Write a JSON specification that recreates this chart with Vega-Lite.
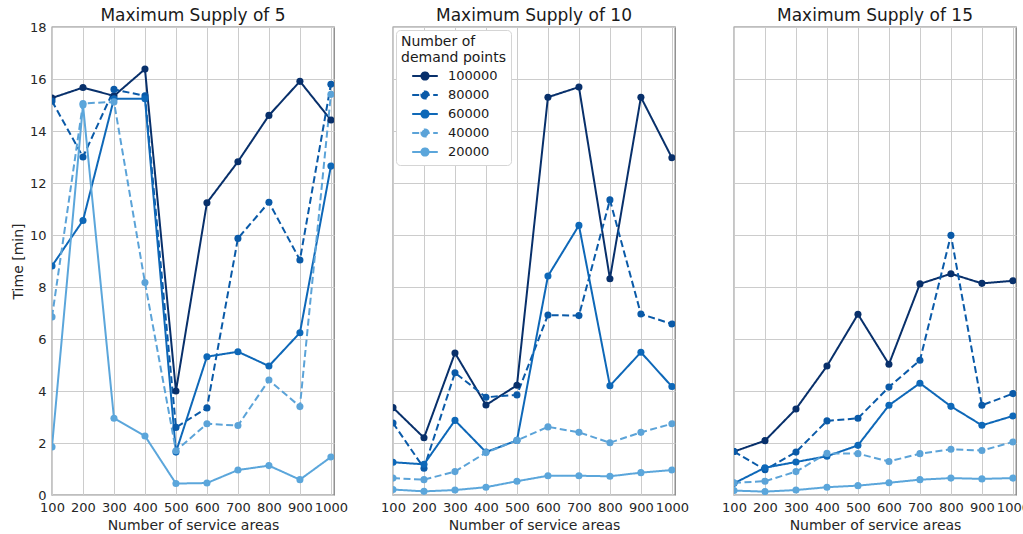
{
  "$schema": "https://vega.github.io/schema/vega-lite/v6.json",
  "padding": {"left": 11, "top": 7, "right": 5, "bottom": 5},
  "background": "white",
  "data": {
    "values": [
      {"s": 5, "n": 100, "d": "100000", "t": 15.27}, {"s": 5, "n": 200, "d": "100000", "t": 15.67}, {"s": 5, "n": 300, "d": "100000", "t": 15.35}, {"s": 5, "n": 400, "d": "100000", "t": 16.38}, {"s": 5, "n": 500, "d": "100000", "t": 4.0}, {"s": 5, "n": 600, "d": "100000", "t": 11.24}, {"s": 5, "n": 700, "d": "100000", "t": 12.82}, {"s": 5, "n": 800, "d": "100000", "t": 14.6}, {"s": 5, "n": 900, "d": "100000", "t": 15.91}, {"s": 5, "n": 1000, "d": "100000", "t": 14.42},
      {"s": 5, "n": 100, "d": "80000", "t": 15.15}, {"s": 5, "n": 200, "d": "80000", "t": 13.0}, {"s": 5, "n": 300, "d": "80000", "t": 15.6}, {"s": 5, "n": 400, "d": "80000", "t": 15.35}, {"s": 5, "n": 500, "d": "80000", "t": 2.6}, {"s": 5, "n": 600, "d": "80000", "t": 3.35}, {"s": 5, "n": 700, "d": "80000", "t": 9.87}, {"s": 5, "n": 800, "d": "80000", "t": 11.26}, {"s": 5, "n": 900, "d": "80000", "t": 9.04}, {"s": 5, "n": 1000, "d": "80000", "t": 15.8},
      {"s": 5, "n": 100, "d": "60000", "t": 8.81}, {"s": 5, "n": 200, "d": "60000", "t": 10.56}, {"s": 5, "n": 300, "d": "60000", "t": 15.24}, {"s": 5, "n": 400, "d": "60000", "t": 15.24}, {"s": 5, "n": 500, "d": "60000", "t": 1.65}, {"s": 5, "n": 600, "d": "60000", "t": 5.32}, {"s": 5, "n": 700, "d": "60000", "t": 5.51}, {"s": 5, "n": 800, "d": "60000", "t": 4.96}, {"s": 5, "n": 900, "d": "60000", "t": 6.24}, {"s": 5, "n": 1000, "d": "60000", "t": 12.65},
      {"s": 5, "n": 100, "d": "40000", "t": 6.85}, {"s": 5, "n": 200, "d": "40000", "t": 15.06}, {"s": 5, "n": 300, "d": "40000", "t": 15.12}, {"s": 5, "n": 400, "d": "40000", "t": 8.17}, {"s": 5, "n": 500, "d": "40000", "t": 1.7}, {"s": 5, "n": 600, "d": "40000", "t": 2.74}, {"s": 5, "n": 700, "d": "40000", "t": 2.67}, {"s": 5, "n": 800, "d": "40000", "t": 4.42}, {"s": 5, "n": 900, "d": "40000", "t": 3.4}, {"s": 5, "n": 1000, "d": "40000", "t": 15.41},
      {"s": 5, "n": 100, "d": "20000", "t": 1.85}, {"s": 5, "n": 200, "d": "20000", "t": 15.0}, {"s": 5, "n": 300, "d": "20000", "t": 2.95}, {"s": 5, "n": 400, "d": "20000", "t": 2.27}, {"s": 5, "n": 500, "d": "20000", "t": 0.44}, {"s": 5, "n": 600, "d": "20000", "t": 0.46}, {"s": 5, "n": 700, "d": "20000", "t": 0.96}, {"s": 5, "n": 800, "d": "20000", "t": 1.13}, {"s": 5, "n": 900, "d": "20000", "t": 0.59}, {"s": 5, "n": 1000, "d": "20000", "t": 1.46},

      {"s": 10, "n": 100, "d": "100000", "t": 3.36}, {"s": 10, "n": 200, "d": "100000", "t": 2.2}, {"s": 10, "n": 300, "d": "100000", "t": 5.46}, {"s": 10, "n": 400, "d": "100000", "t": 3.46}, {"s": 10, "n": 500, "d": "100000", "t": 4.22}, {"s": 10, "n": 600, "d": "100000", "t": 15.3}, {"s": 10, "n": 700, "d": "100000", "t": 15.69}, {"s": 10, "n": 800, "d": "100000", "t": 8.32}, {"s": 10, "n": 900, "d": "100000", "t": 15.3}, {"s": 10, "n": 1000, "d": "100000", "t": 12.97},
      {"s": 10, "n": 100, "d": "80000", "t": 2.77}, {"s": 10, "n": 200, "d": "80000", "t": 1.03}, {"s": 10, "n": 300, "d": "80000", "t": 4.7}, {"s": 10, "n": 400, "d": "80000", "t": 3.76}, {"s": 10, "n": 500, "d": "80000", "t": 3.85}, {"s": 10, "n": 600, "d": "80000", "t": 6.92}, {"s": 10, "n": 700, "d": "80000", "t": 6.9}, {"s": 10, "n": 800, "d": "80000", "t": 11.35}, {"s": 10, "n": 900, "d": "80000", "t": 6.96}, {"s": 10, "n": 1000, "d": "80000", "t": 6.58},
      {"s": 10, "n": 100, "d": "60000", "t": 1.26}, {"s": 10, "n": 200, "d": "60000", "t": 1.18}, {"s": 10, "n": 300, "d": "60000", "t": 2.87}, {"s": 10, "n": 400, "d": "60000", "t": 1.65}, {"s": 10, "n": 500, "d": "60000", "t": 2.1}, {"s": 10, "n": 600, "d": "60000", "t": 8.42}, {"s": 10, "n": 700, "d": "60000", "t": 10.37}, {"s": 10, "n": 800, "d": "60000", "t": 4.2}, {"s": 10, "n": 900, "d": "60000", "t": 5.49}, {"s": 10, "n": 1000, "d": "60000", "t": 4.17},
      {"s": 10, "n": 100, "d": "40000", "t": 0.65}, {"s": 10, "n": 200, "d": "40000", "t": 0.59}, {"s": 10, "n": 300, "d": "40000", "t": 0.9}, {"s": 10, "n": 400, "d": "40000", "t": 1.63}, {"s": 10, "n": 500, "d": "40000", "t": 2.1}, {"s": 10, "n": 600, "d": "40000", "t": 2.62}, {"s": 10, "n": 700, "d": "40000", "t": 2.41}, {"s": 10, "n": 800, "d": "40000", "t": 2.01}, {"s": 10, "n": 900, "d": "40000", "t": 2.41}, {"s": 10, "n": 1000, "d": "40000", "t": 2.74},
      {"s": 10, "n": 100, "d": "20000", "t": 0.21}, {"s": 10, "n": 200, "d": "20000", "t": 0.14}, {"s": 10, "n": 300, "d": "20000", "t": 0.19}, {"s": 10, "n": 400, "d": "20000", "t": 0.3}, {"s": 10, "n": 500, "d": "20000", "t": 0.53}, {"s": 10, "n": 600, "d": "20000", "t": 0.74}, {"s": 10, "n": 700, "d": "20000", "t": 0.74}, {"s": 10, "n": 800, "d": "20000", "t": 0.72}, {"s": 10, "n": 900, "d": "20000", "t": 0.86}, {"s": 10, "n": 1000, "d": "20000", "t": 0.96},

      {"s": 15, "n": 100, "d": "100000", "t": 1.67}, {"s": 15, "n": 200, "d": "100000", "t": 2.09}, {"s": 15, "n": 300, "d": "100000", "t": 3.31}, {"s": 15, "n": 400, "d": "100000", "t": 4.96}, {"s": 15, "n": 500, "d": "100000", "t": 6.95}, {"s": 15, "n": 600, "d": "100000", "t": 5.03}, {"s": 15, "n": 700, "d": "100000", "t": 8.12}, {"s": 15, "n": 800, "d": "100000", "t": 8.51}, {"s": 15, "n": 900, "d": "100000", "t": 8.14}, {"s": 15, "n": 1000, "d": "100000", "t": 8.24},
      {"s": 15, "n": 100, "d": "80000", "t": 1.67}, {"s": 15, "n": 200, "d": "80000", "t": 0.97}, {"s": 15, "n": 300, "d": "80000", "t": 1.65}, {"s": 15, "n": 400, "d": "80000", "t": 2.85}, {"s": 15, "n": 500, "d": "80000", "t": 2.95}, {"s": 15, "n": 600, "d": "80000", "t": 4.15}, {"s": 15, "n": 700, "d": "80000", "t": 5.18}, {"s": 15, "n": 800, "d": "80000", "t": 9.99}, {"s": 15, "n": 900, "d": "80000", "t": 3.45}, {"s": 15, "n": 1000, "d": "80000", "t": 3.9},
      {"s": 15, "n": 100, "d": "60000", "t": 0.45}, {"s": 15, "n": 200, "d": "60000", "t": 1.05}, {"s": 15, "n": 300, "d": "60000", "t": 1.27}, {"s": 15, "n": 400, "d": "60000", "t": 1.49}, {"s": 15, "n": 500, "d": "60000", "t": 1.91}, {"s": 15, "n": 600, "d": "60000", "t": 3.45}, {"s": 15, "n": 700, "d": "60000", "t": 4.3}, {"s": 15, "n": 800, "d": "60000", "t": 3.41}, {"s": 15, "n": 900, "d": "60000", "t": 2.68}, {"s": 15, "n": 1000, "d": "60000", "t": 3.04},
      {"s": 15, "n": 100, "d": "40000", "t": 0.47}, {"s": 15, "n": 200, "d": "40000", "t": 0.53}, {"s": 15, "n": 300, "d": "40000", "t": 0.9}, {"s": 15, "n": 400, "d": "40000", "t": 1.6}, {"s": 15, "n": 500, "d": "40000", "t": 1.59}, {"s": 15, "n": 600, "d": "40000", "t": 1.29}, {"s": 15, "n": 700, "d": "40000", "t": 1.59}, {"s": 15, "n": 800, "d": "40000", "t": 1.76}, {"s": 15, "n": 900, "d": "40000", "t": 1.71}, {"s": 15, "n": 1000, "d": "40000", "t": 2.04},
      {"s": 15, "n": 100, "d": "20000", "t": 0.17}, {"s": 15, "n": 200, "d": "20000", "t": 0.13}, {"s": 15, "n": 300, "d": "20000", "t": 0.19}, {"s": 15, "n": 400, "d": "20000", "t": 0.3}, {"s": 15, "n": 500, "d": "20000", "t": 0.36}, {"s": 15, "n": 600, "d": "20000", "t": 0.47}, {"s": 15, "n": 700, "d": "20000", "t": 0.59}, {"s": 15, "n": 800, "d": "20000", "t": 0.65}, {"s": 15, "n": 900, "d": "20000", "t": 0.62}, {"s": 15, "n": 1000, "d": "20000", "t": 0.65}
    ]
  },
  "facet": {
    "column": {
      "field": "s",
      "type": "ordinal",
      "sort": [5, 10, 15],
      "header": {
        "title": null,
        "labelExpr": "'Maximum Supply of ' + datum.value",
        "labelFont": "DejaVu Sans",
        "labelFontSize": 17,
        "labelColor": "#1a1a1a",
        "labelPadding": 1
      }
    }
  },
  "spacing": 57,
  "spec": {
    "width": 282,
    "height": 468,
    "layer": [
      {
        "mark": {"type": "line", "strokeWidth": 2, "clip": true},
        "encoding": {
          "x": {"field": "n", "type": "quantitative"},
          "y": {"field": "t", "type": "quantitative"},
          "color": {"field": "d", "type": "nominal"},
          "strokeDash": {
            "field": "d",
            "type": "nominal",
            "scale": {
              "domain": ["100000", "80000", "60000", "40000", "20000"],
              "range": [[1, 0], [7, 3.5], [1, 0], [7, 3.5], [1, 0]]
            },
            "legend": {"title": ["Number of", "demand points"]}
          }
        }
      },
      {
        "mark": {"type": "point", "filled": true, "opacity": 1, "size": 50, "clip": true},
        "encoding": {
          "x": {"field": "n", "type": "quantitative"},
          "y": {"field": "t", "type": "quantitative"},
          "color": {"field": "d", "type": "nominal"}
        }
      }
    ],
    "encoding": {
      "x": {
        "field": "n",
        "type": "quantitative",
        "title": "Number of service areas",
        "scale": {"domain": [100, 1010], "nice": false, "zero": false},
        "axis": {"values": [100, 200, 300, 400, 500, 600, 700, 800, 900, 1000], "format": "d", "labelOverlap": false, "labelFlush": false}
      },
      "y": {
        "field": "t",
        "type": "quantitative",
        "title": "Time [min]",
        "scale": {"domain": [0, 18], "nice": false},
        "axis": {"values": [0, 2, 4, 6, 8, 10, 12, 14, 16, 18]}
      },
      "color": {
        "field": "d",
        "type": "nominal",
        "scale": {
          "domain": ["100000", "80000", "60000", "40000", "20000"],
          "range": ["#08306b", "#0a5aa8", "#0e68b8", "#5ba3d8", "#5ba6db"]
        },
        "legend": {
          "title": ["Number of", "demand points"],
          "orient": "none",
          "legendX": 344,
          "legendY": 3,
          "symbolType": "M-1.6,0H1.6M-0.45,0a0.45,0.45 0 1,0 0.9,0a0.45,0.45 0 1,0 -0.9,0",
          "symbolSize": 256,
          "symbolStrokeWidth": 2,
          "symbolOffset": 15,
          "labelOffset": 14,
          "encode": {"symbols": {"update": {"fill": {"scale": "color", "field": "value"}}}}
        }
      }
    }
  },
  "config": {
    "font": "DejaVu Sans",
    "view": {"stroke": "#7f7f7f", "strokeWidth": 1.3},
    "axis": {
      "domain": false,
      "ticks": false,
      "grid": true,
      "gridColor": "#cccccc",
      "gridWidth": 1,
      "labelFont": "DejaVu Sans",
      "labelFontSize": 13,
      "labelColor": "#262626",
      "labelPadding": 5,
      "titleFont": "DejaVu Sans",
      "titleFontSize": 14,
      "titleFontWeight": "normal",
      "titleColor": "#262626",
      "titlePadding": 4
    },
    "legend": {
      "titleFont": "DejaVu Sans",
      "titleFontSize": 14,
      "titleFontWeight": "normal",
      "titleColor": "#1a1a1a",
      "titlePadding": 2,
      "labelFont": "DejaVu Sans",
      "labelFontSize": 13,
      "labelColor": "#1a1a1a",
      "rowPadding": 2,
      "padding": 5,
      "fillColor": "white",
      "strokeColor": "#d5d5d5",
      "cornerRadius": 4
    }
  }
}
